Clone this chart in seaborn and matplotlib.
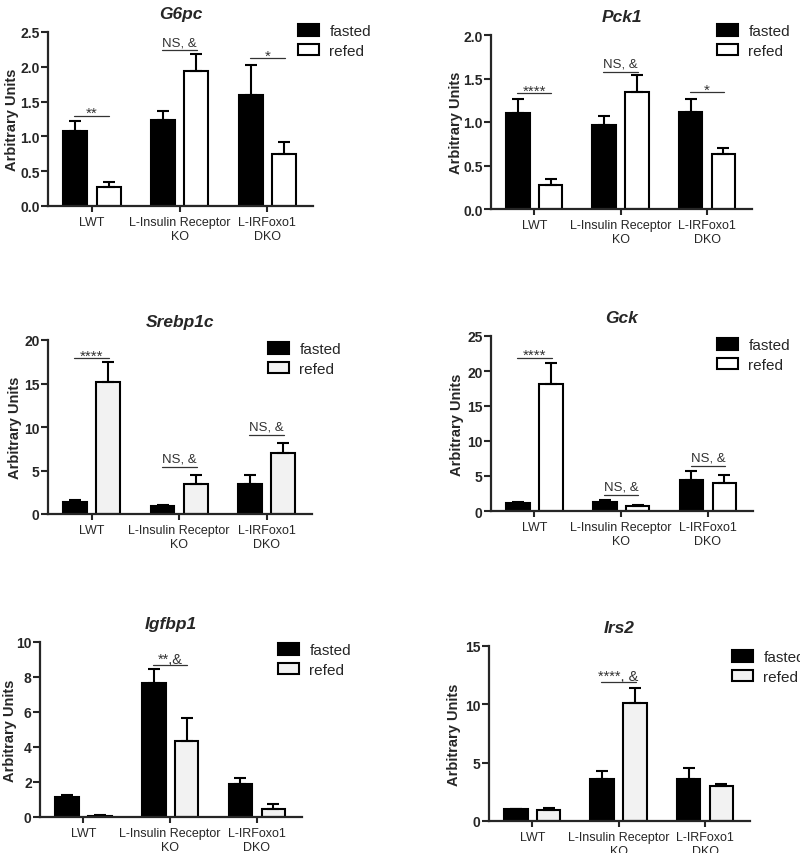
import matplotlib
matplotlib.use("Agg")
import matplotlib.pyplot as plt
from matplotlib.patches import Patch
import seaborn as sns
import pandas as pd

# groups and conditions
genotypes = ["LWT", "L-Insulin Receptor\nKO", "L-IRFoxo1\nDKO"]
conditions = ["fasted", "refed"]
genes = ["G6pc", "Pck1", "Srebp1c", "Gck", "Igfbp1", "Irs2"]

# means and SEM, order: LWT, L-IR KO, L-IRFoxo1 DKO
g6pc_fasted = [1.08, 1.23, 1.60]
g6pc_fasted_sem = [0.14, 0.13, 0.43]
g6pc_refed = [0.27, 1.94, 0.74]
g6pc_refed_sem = [0.08, 0.24, 0.18]

pck1_fasted = [1.10, 0.97, 1.12]
pck1_fasted_sem = [0.16, 0.10, 0.15]
pck1_refed = [0.28, 1.34, 0.63]
pck1_refed_sem = [0.07, 0.20, 0.07]

srebp1c_fasted = [1.4, 0.95, 3.5]
srebp1c_fasted_sem = [0.25, 0.1, 1.0]
srebp1c_refed = [15.2, 3.5, 7.0]
srebp1c_refed_sem = [2.3, 1.0, 1.2]

gck_fasted = [1.2, 1.35, 4.45]
gck_fasted_sem = [0.15, 0.2, 1.25]
gck_refed = [18.1, 0.65, 4.0]
gck_refed_sem = [3.0, 0.2, 1.15]

igfbp1_fasted = [1.12, 7.68, 1.89]
igfbp1_fasted_sem = [0.12, 0.8, 0.36]
igfbp1_refed = [0.08, 4.32, 0.48]
igfbp1_refed_sem = [0.02, 1.36, 0.24]

irs2_fasted = [1.05, 3.63, 3.63]
irs2_fasted_sem = [0.02, 0.63, 0.94]
irs2_refed = [0.97, 10.11, 2.97]
irs2_refed_sem = [0.15, 1.32, 0.23]

means = {
    "G6pc": (g6pc_fasted, g6pc_refed),
    "Pck1": (pck1_fasted, pck1_refed),
    "Srebp1c": (srebp1c_fasted, srebp1c_refed),
    "Gck": (gck_fasted, gck_refed),
    "Igfbp1": (igfbp1_fasted, igfbp1_refed),
    "Irs2": (irs2_fasted, irs2_refed),
}
sems = {
    "G6pc": (g6pc_fasted_sem, g6pc_refed_sem),
    "Pck1": (pck1_fasted_sem, pck1_refed_sem),
    "Srebp1c": (srebp1c_fasted_sem, srebp1c_refed_sem),
    "Gck": (gck_fasted_sem, gck_refed_sem),
    "Igfbp1": (igfbp1_fasted_sem, igfbp1_refed_sem),
    "Irs2": (irs2_fasted_sem, irs2_refed_sem),
}

# y ticks per gene
yticks = {
    "G6pc": [0.0, 0.5, 1.0, 1.5, 2.0, 2.5],
    "Pck1": [0.0, 0.5, 1.0, 1.5, 2.0],
    "Srebp1c": [0, 5, 10, 15, 20],
    "Gck": [0, 5, 10, 15, 20, 25],
    "Igfbp1": [0, 2, 4, 6, 8, 10],
    "Irs2": [0, 5, 10, 15],
}

# significance marks: (group index, height, label)
marks = {
    "G6pc": [(0, 1.30, "**"), (1, 2.24, "NS, &"), (2, 2.12, "*")],
    "Pck1": [(0, 1.33, "****"), (1, 1.58, "NS, &"), (2, 1.34, "*")],
    "Srebp1c": [(0, 17.9, "****"), (1, 5.4, "NS, &"), (2, 9.1, "NS, &")],
    "Gck": [(0, 21.9, "****"), (1, 2.33, "NS, &"), (2, 6.5, "NS, &")],
    "Igfbp1": [(1, 8.7, "**,&")],
    "Irs2": [(1, 11.9, "****, &")],
}

refed_fill = {"G6pc": "white", "Pck1": "white", "Srebp1c": "#f2f2f2",
              "Gck": "white", "Igfbp1": "#f2f2f2", "Irs2": "#f2f2f2"}

sns.set_style("ticks")
plt.rcParams["font.family"] = ["Liberation Sans", "DejaVu Sans"]

W, H = 800, 854
fig = plt.figure(figsize=(W / 100, H / 100), dpi=100)

# axes boxes in pixels: left, top, right, bottom
boxes = [(48, 33, 313, 207), (491, 36, 752, 210),
         (48, 341, 312, 515), (491, 337, 753, 512),
         (40, 643, 302, 818), (489, 647, 750, 822)]
legend_at = [(298, 34), (717, 34), (268, 352), (717, 348), (278, 653), (732, 660)]
ylab_off = [29, 28, 26, 27, 23, 28]

for i, gene in enumerate(genes):
    l, t, r, b = boxes[i]
    ax = fig.add_axes([l / W, 1 - b / H, (r - l) / W, (b - t) / H])

    fasted, refed = means[gene]
    df = pd.DataFrame({
        "genotype": genotypes * 2,
        "condition": ["fasted"] * 3 + ["refed"] * 3,
        "value": fasted + refed,
    })
    pal = {"fasted": "black", "refed": refed_fill[gene]}
    sns.barplot(data=df, x="genotype", y="value", hue="condition",
                order=genotypes, hue_order=conditions, palette=pal,
                width=0.76, gap=0.28, errorbar=None, edgecolor="black",
                linewidth=1.5, legend=False, ax=ax)

    # upward-only SEM bars
    bar_sets = list(ax.containers)
    for k, cont in enumerate(bar_sets):
        err = sems[gene][k]
        vals = means[gene][k]
        for p, m, e in zip(cont.patches, vals, err):
            xc = p.get_x() + p.get_width() / 2
            ax.errorbar(xc, m, yerr=[[0], [e]], fmt="none", ecolor="black",
                        elinewidth=1.5, capsize=4, capthick=1.5, zorder=1)

    for g, yv, txt in marks[gene]:
        ax.plot([g - 0.2, g + 0.2], [yv, yv], color="#333333", lw=0.9)
        if txt.startswith("NS"):
            ax.annotate(txt, (g, yv), xytext=(0, 1.5), textcoords="offset points",
                        ha="center", va="bottom", fontsize=9.5, color="#333333")
        elif "&" in txt:
            ax.annotate(txt, (g, yv), xytext=(0, 1.5), textcoords="offset points",
                        ha="center", va="baseline", fontsize=10.5, color="#333333")
        else:
            ax.annotate(txt, (g, yv), xytext=(0, -1), textcoords="offset points",
                        ha="center", va="baseline", fontsize=11, color="#333333")

    tk = yticks[gene]
    ax.set_ylim(0, tk[-1])
    ax.set_yticks(tk)
    if gene in ("G6pc", "Pck1"):
        ax.set_yticklabels([f"{v:.1f}" for v in tk])
    else:
        ax.set_yticklabels([f"{v:d}" for v in tk])
    ax.set_xlim(-0.5, 2.52)

    ax.set_title(gene, fontsize=12.5, fontweight="bold", fontstyle="italic", pad=10)
    ax.set_xlabel("")
    ax.set_ylabel("Arbitrary Units", fontsize=10.5, fontweight="bold")
    ax.yaxis.set_label_coords(-ylab_off[i] / (r - l), 0.5)

    sns.despine(ax=ax)
    for s in ("left", "bottom"):
        ax.spines[s].set_linewidth(1.6)
    ax.tick_params(axis="y", length=5, width=1.5, labelsize=10, pad=1)
    ax.tick_params(axis="x", length=4, width=1.5, labelsize=9, pad=3)
    for lab in ax.get_yticklabels():
        lab.set_fontweight("bold")

    handles = [Patch(facecolor="black", edgecolor="black", linewidth=1.5),
               Patch(facecolor=refed_fill[gene], edgecolor="black", linewidth=1.5)]
    lx, ly = legend_at[i]
    ax.legend(handles, conditions, loc="upper left",
              bbox_to_anchor=(lx / W, 1 - (ly - 9) / H), bbox_transform=fig.transFigure,
              frameon=False, fontsize=11, borderpad=0, borderaxespad=0,
              handlelength=1.4, handleheight=0.8, handletextpad=0.65, labelspacing=0.35)

fig.savefig("out.png", dpi=100)
